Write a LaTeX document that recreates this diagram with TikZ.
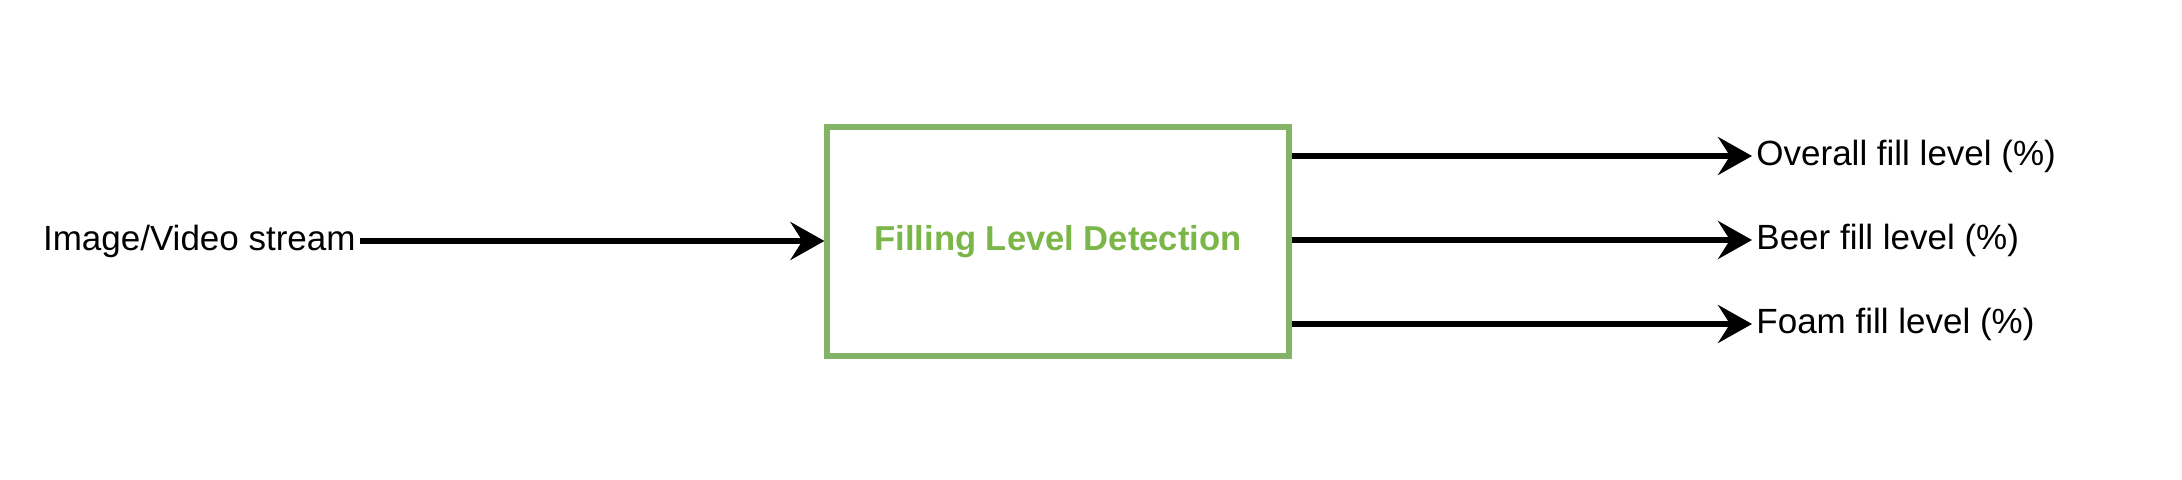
\documentclass[tikz,border=0pt]{standalone}
\usepackage{fontspec}
\setmainfont{Liberation Sans}
\usetikzlibrary{arrows.meta}
\definecolor{boxgreen}{HTML}{82B366}
\definecolor{textgreen}{HTML}{7AB648}
\tikzset{
  lbl/.style={inner sep=2pt, text height=0.72em+4pt, text depth=0.2em, font=\fontsize{17.5}{20}\selectfont},
  flow/.style={line width=2.6pt, -{Stealth[length=17pt, width=19pt, inset=6pt]}},
  procbox/.style={draw=boxgreen, line width=2.6pt, minimum width=231pt, minimum height=114.5pt, inner sep=0pt,
    text height=0.72em+4pt, text depth=0.2em,
    text=textgreen, font=\fontsize{17.3}{20}\selectfont\bfseries}
}
\begin{document}
\begin{tikzpicture}[x=0.5pt,y=-0.5pt]
\useasboundingbox (0,0) rectangle (2182,480);
\node[procbox] (det) at (1058,241.5) {Filling Level Detection};
\node[lbl, anchor=east] (in) at (360,241) {Image/Video stream};
\node[lbl, anchor=west] (o1) at (1752,156) {Overall fill level (\%)};
\node[lbl, anchor=west] (o2) at (1752,240) {Beer fill level (\%)};
\node[lbl, anchor=west] (o3) at (1752,324) {Foam fill level (\%)};
\draw[flow] (in) -- (det.west |- in);
\draw[flow] (det.east |- o1) -- (o1);
\draw[flow] (det.east |- o2) -- (o2);
\draw[flow] (det.east |- o3) -- (o3);
\end{tikzpicture}
\end{document}
